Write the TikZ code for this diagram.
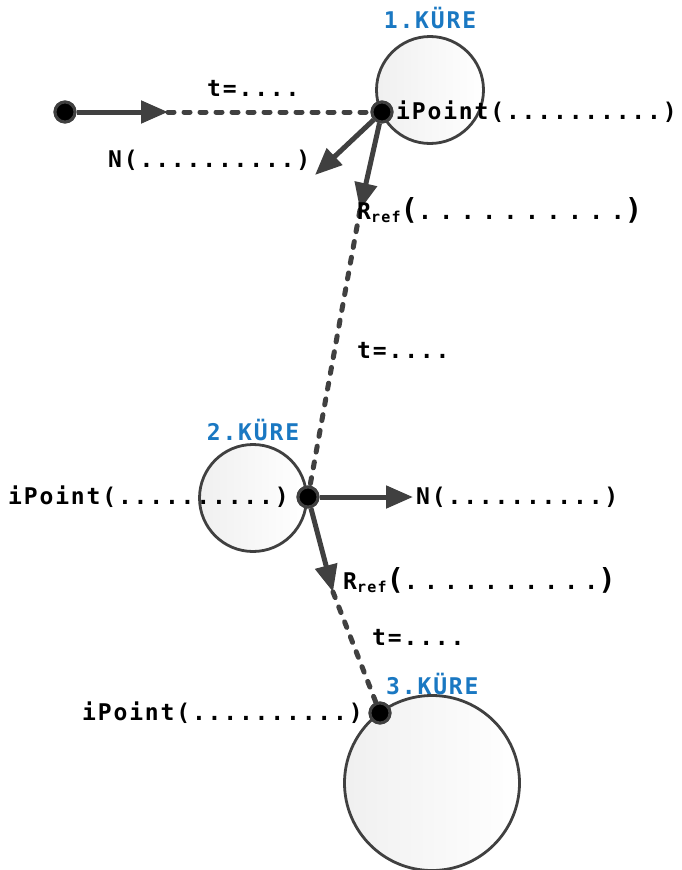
\documentclass[tikz,border=0pt]{standalone}
\usepackage{fontspec}
\newfontfamily\labfont{DejaVu Sans Mono}[LetterSpace=8]
\usetikzlibrary{arrows.meta}
\definecolor{ln}{HTML}{404040}
\definecolor{kure}{HTML}{1A78C2}
\newcommand{\Rref}[1]{R\raisebox{-0.25ex}{\fontsize{15}{15}\selectfont ref}{\fontsize{29}{29}\selectfont(}{\addfontfeature{LetterSpace=#1}..........}{\fontsize{29}{29}\selectfont)}}
\begin{document}
\begin{tikzpicture}[x=1pt,y=-1pt,
  lbl/.style={font=\labfont\bfseries\fontsize{23}{25}\selectfont, inner sep=0pt, text=black},
  kurelbl/.style={lbl, text=kure},
  sphere/.style={circle, draw=ln, line width=2.8pt, left color=gray!12, right color=white, inner sep=0pt},
  hit/.style={circle, fill=black, draw=ln, line width=3pt, minimum size=20pt, inner sep=0pt},
  ray/.style={draw=ln, line width=5pt, -{Triangle[length=27pt,width=22pt]}},
  dray/.style={draw=ln, line width=5pt, dash pattern=on 6pt off 10pt, line cap=round}]
\useasboundingbox (0,0) rectangle (681,870);
% spheres
\node[sphere, minimum size=107pt] (k1) at (430,90) {};
\node[sphere, minimum size=107pt] (k2) at (253,498) {};
\node[sphere, minimum size=175pt] (k3) at (432,783) {};
% hit points
\node[hit] (s0) at (65,112) {};
\node[hit] (p1) at (382,112) {};
\node[hit] (p2) at (308,497) {};
\node[hit] (p3) at (380,713) {};
\coordinate (a0) at (168,112);
\coordinate (n1) at (315,175);
\coordinate (r1) at (360,210);
\coordinate (n2) at (413,497);
\coordinate (r2) at (333,592);
% rays
\draw[dray] (a0) -- (p1);
\draw[dray] (r1) -- (p2);
\draw[dray] (r2) -- (p3);
\draw[ray] (s0) -- (a0);
\draw[ray] (p1) -- (n1);
\draw[ray] (p1) -- (r1);
\draw[ray] (p2) -- (n2);
\draw[ray] (p2) -- (r2);
% redraw dots on top
\node[hit] at (s0) {};
\node[hit] at (p1) {};
\node[hit] at (p2) {};
\node[hit] at (p3) {};
% labels
\node[kurelbl] (l1) at (430,18) {1.KÜRE};
\node[kurelbl] (l2) at (253,430) {2.KÜRE};
\node[kurelbl, anchor=west] (l3) at (386,684) {3.KÜRE};
\node[lbl, anchor=west] (t1) at (207,88) {t=....};
\node[lbl, anchor=west] (ip1) at (396,112) {iPoint(..........)};
\node[lbl, anchor=west] (nl1) at (108,160) {N(..........)};
\node[lbl, anchor=west] (rl1) at (357,210) {\Rref{33}};
\node[lbl, anchor=west] (t2) at (357,350) {t=....};
\node[lbl, anchor=west] (ip2) at (8,497) {iPoint(..........)};
\node[lbl, anchor=west] (nl2) at (416,497) {N(..........)};
\node[lbl, anchor=west] (rl2) at (343,580) {\Rref{27}};
\node[lbl, anchor=west] (t3) at (372,637) {t=....};
\node[lbl, anchor=west] (ip3) at (82,713) {iPoint(..........)};
\end{tikzpicture}
\end{document}
